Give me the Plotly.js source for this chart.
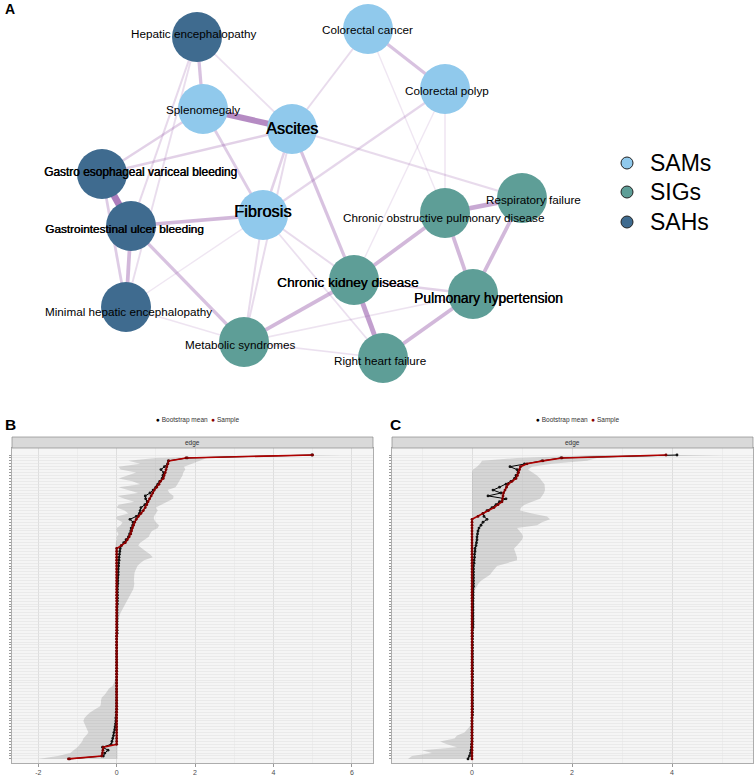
<!DOCTYPE html>
<html><head><meta charset="utf-8">
<script src="https://cdn.plot.ly/plotly-3.0.1.min.js"></script>
<style>html,body{margin:0;padding:0;background:#fff}#chart{width:756px;height:780px}</style>
</head><body><div id="chart"></div>
<script>
// ================= Panel A: network data =================
const nodeNames = ['Hepatic encephalopathy','Colorectal cancer','Colorectal polyp','Splenomegaly','Ascites',
  'Gastro esophageal variceal bleeding','Gastrointestinal ulcer bleeding','Fibrosis',
  'Chronic obstructive pulmonary disease','Respiratory failure','Chronic kidney disease',
  'Pulmonary hypertension','Minimal hepatic encephalopathy','Metabolic syndromes','Right heart failure'];
const nodeGroup = ['SAHs','SAMs','SAMs','SAMs','SAMs','SAHs','SAHs','SAMs','SIGs','SIGs','SIGs','SIGs','SAHs','SIGs','SIGs'];
// network layout coordinates (layout units)
const layoutX = [197,368,445,203,292,102,131,263,445,522,354,473,126,244,383];
const layoutY = [37,29,89,109,129,174,226,215,213,198,280,294,307,342,358];
// edges (node index pairs) and their weights
const edgeFrom   = [3,5,0,1,1,2,2,2,4,4,4,4,4,3,0,0,0,3,6,6,5,6,7,7,7,10,10,10,10,8,8,9,11,13,13,12,12,1];
const edgeTo     = [4,6,3,2,4,7,8,10,9,10,5,7,13,7,4,6,12,5,7,12,12,13,10,13,14,8,13,14,11,11,9,11,14,14,11,13,7,8];
const edgeWeight = [1.0,1.15,0.45,0.45,0.2,0.25,0.1,0.08,0.2,0.45,0.3,0.3,0.2,0.35,0.15,0.22,0.18,0.3,0.55,0.55,0.35,0.45,0.2,0.2,0.15,0.55,0.55,0.8,0.3,0.55,0.7,0.55,0.55,0.15,0.12,0.1,0.08,0.08];
const groupNames = ['SAMs','SIGs','SAHs'];

// ================= Panel B: bootstrap of edges (sample network) =================
const sampleB = [
  5.00,1.77,1.33,1.31,1.28,1.26,1.24,1.21,1.19,1.12,
  1.08,1.02,0.96,0.92,0.88,0.84,0.80,0.77,0.73,0.68,
  0.62,0.55,0.50,0.46,0.43,0.40,0.38,0.36,0.32,0.27,
  0.22,0.12,0,0,0,0,0,0,0,0,
  0,0,0,0,0,0,0,0,0,0,
  0,0,0,0,0,0,0,0,0,0,
  0,0,0,0,0,0,0,0,0,0,
  0,0,0,0,0,0,0,0,0,0,
  0,0,0,0,0,0,0,0,0,0,
  0,0,0,0,0,0,0,0,0,0,
  -0.34,-0.35,-0.36,-0.38,-1.23];
const bootMeanB = [
  4.98,1.80,1.32,1.30,1.22,1.13,1.20,1.18,1.16,1.10,
  1.05,1.00,0.93,0.85,0.73,0.74,0.78,0.72,0.62,0.60,
  0.58,0.50,0.34,0.42,0.41,0.37,0.36,0.33,0.30,0.24,
  0.18,0.12,0.09,0.08,0.07,0.06,0.06,0.05,0.05,0.04,
  0.04,0.04,0.03,0.03,0.03,0.02,0.02,0.02,0.02,0.02,
  0.02,0.02,0.01,0.01,0.01,0.01,0.01,0.01,0.01,0.01,
  0.01,0.01,0,0,0,0,0,0,0,0,
  0,0,0,0,0,0,0,0,0,0,
  0,0,0,0,0,0,0,0,-0.01,-0.01,
  -0.02,-0.02,-0.03,-0.04,-0.05,-0.07,-0.08,-0.10,-0.12,-0.14,
  -0.36,-0.22,-0.30,-0.34,-1.20];
const ciLowB = [
  4.20,1.00,0.30,0.60,0.05,0.10,0.50,0.30,0.05,0.40,
  0.60,0.05,0.30,0.55,0.02,0.20,0.45,0.05,0.00,0.20,
  0.30,0.00,0.00,0.15,0.10,0.00,0.00,0.05,0.00,0.00,
  -0.02,-0.03,-0.03,-0.02,-0.02,-0.01,-0.01,-0.01,0,0,
  0,0,0,0,0,0,0,0,0,0,
  0,0,0,0,0,0,0,0,0,0,
  0,0,0,0,0,0,0,0,0,0,
  0,0,0,0,0,0,-0.02,-0.04,-0.07,-0.10,
  -0.20,-0.25,-0.30,-0.38,-0.40,-0.40,-0.42,-0.55,-0.67,-0.75,
  -0.82,-0.85,-0.82,-0.80,-0.75,-0.72,-0.78,-0.85,-0.88,-0.95,
  -1.00,-1.10,-1.18,-1.50,-2.00];
const ciHighB = [
  5.70,2.30,2.10,1.90,1.72,1.75,1.70,1.68,1.64,1.60,
  1.55,1.50,1.30,1.35,1.45,1.44,1.30,1.15,1.00,1.05,
  1.00,0.95,0.95,1.00,1.08,1.05,0.90,0.85,0.82,0.70,
  0.60,0.55,0.65,0.75,0.85,0.92,0.70,0.60,0.53,0.50,
  0.46,0.45,0.44,0.44,0.45,0.44,0.42,0.40,0.36,0.32,
  0.28,0.22,0.18,0.14,0.10,0.07,0.05,0.04,0.03,0.03,
  0.03,0.02,0.02,0.02,0.02,0.02,0.02,0.02,0.02,0.02,
  0.02,0.02,0.02,0.02,0.02,0.02,0.02,0.02,0.02,0.02,
  0.02,0.02,0.02,0.02,0.02,0.02,0.02,0.02,0.02,0.02,
  0.02,0.02,0.02,0.02,0.02,0.02,0.02,0.02,0.02,0.02,
  0.02,0.02,0.02,0.02,0.02];

// ================= Panel C: bootstrap of edges (second network) =================
const sampleC = [
  3.88,1.80,1.42,1.10,0.97,0.95,0.93,0.91,0.88,0.80,
  0.72,0.69,0.66,0.63,0.62,0.61,0.60,0.52,0.44,0.33,
  0.22,0.12,0,0,0,0,0,0,0,0,
  0,0,0,0,0,0,0,0,0,0,
  0,0,0,0,0,0,0,0,0,0,
  0,0,0,0,0,0,0,0,0,0,
  0,0,0,0,0,0,0,0,0,0,
  0,0,0,0,0,0,0,0,0,0,
  0,0,0,0,0,0,0,0,0,0,
  0,0,0,0,0,0,0,0,0,0,
  0,0,0,0,0];
const bootMeanC = [
  4.10,1.78,1.40,1.05,0.76,0.90,0.92,0.88,0.85,0.78,
  0.68,0.55,0.42,0.58,0.32,0.68,0.55,0.48,0.40,0.30,
  0.22,0.24,0.30,0.22,0.18,0.14,0.12,0.11,0.10,0.10,
  0.09,0.08,0.06,0.06,0.05,0.05,0.04,0.04,0.03,0.03,
  0.03,0.03,0.03,0.03,0.03,0.03,0.02,0.02,0.02,0.02,
  0.02,0.02,0.02,0.02,0.02,0.02,0.02,0.02,0.02,0.02,
  0.01,0.01,0.01,0.01,0.01,0.01,0.01,0.01,0.01,0.01,
  0.01,0.01,0.01,0.01,0.01,0.01,0.01,0.01,0.01,0.01,
  0.01,0.01,0.01,0.01,0.01,0.01,0.01,0.01,0.01,0.01,
  0,0,0,0,0,0,0,0,0,-0.01,
  -0.01,-0.02,-0.03,-0.05,-0.08];
const ciLowC = [
  2.60,0.90,0.20,0.16,0.10,0.02,0,0,0,0,
  0,0,0,0,0,0,0,0,0,0,
  0,0,0,0,0,0,0,0,0,0,
  0,0,0,0,0,0,0,0,0,0,
  0,0,0,0,0,0,0,0,0,0,
  0,0,0,0,0,0,0,0,0,0,
  0,0,0,0,0,0,0,0,0,0,
  0,0,0,0,0,0,0,0,0,0,
  0,0,0,0,0,0,0,0,0,0,
  0,0,0,-0.05,-0.10,-0.15,-0.30,-0.35,-0.64,-0.50,
  -0.30,-1.00,-0.80,-1.20,-1.28];
const ciHighC = [
  5.00,2.50,2.30,1.60,1.20,1.12,1.20,1.30,1.36,1.40,
  1.45,1.46,1.46,1.44,1.40,1.36,1.20,1.05,0.98,0.96,
  1.20,1.50,1.56,1.40,1.30,0.90,0.95,1.00,1.02,1.00,
  0.95,0.90,0.84,0.86,0.88,0.90,0.90,0.70,0.50,0.45,
  0.40,0.36,0.26,0.18,0.13,0.09,0.06,0.05,0.04,0.04,
  0.03,0.03,0.03,0.03,0.03,0.03,0.03,0.03,0.03,0.03,
  0.03,0.03,0.03,0.03,0.03,0.03,0.03,0.03,0.03,0.03,
  0.02,0.02,0.02,0.02,0.02,0.02,0.02,0.02,0.02,0.02,
  0.02,0.02,0.02,0.02,0.02,0.02,0.02,0.02,0.02,0.02,
  0.02,0.02,0.02,0.02,0.02,0.02,0.02,0.02,0.02,0.02,
  0.02,0.02,0.02,0.02,0.02];
const xTicksB = [-2,0,2,4,6];
const xTicksC = [0,2,4];
const legendLabels = ['Bootstrap mean','Sample'];
const stripLabel = 'edge';

// ================= Styles =================
const FONT = 'Liberation Sans, Arial, Helvetica, sans-serif';
const groupColor = {SAMs:'#90C9EC', SIGs:'#5E9E97', SAHs:'#3F6B8F'};
const labelStyle = { // per node: [dx, dy, font size, heaviness]
  'Hepatic encephalopathy':[-3,-4,11.7,0], 'Colorectal cancer':[-1,0,11.7,0], 'Colorectal polyp':[2,1,11.7,0],
  'Splenomegaly':[0,0,11.7,0], 'Ascites':[0,-1,16.2,0.45], 'Gastro esophageal variceal bleeding':[38,-2,11.9,0.45],
  'Gastrointestinal ulcer bleeding':[-7,3,11.8,0.45], 'Fibrosis':[-1,-4,16.4,0.45],
  'Chronic obstructive pulmonary disease':[-2,4,11.7,0], 'Respiratory failure':[11,1,11.7,0],
  'Chronic kidney disease':[-6,2,13.7,0.3], 'Pulmonary hypertension':[15,4,13.8,0.3],
  'Minimal hepatic encephalopathy':[2,4,11.7,0], 'Metabolic syndromes':[-4,2,11.7,0], 'Right heart failure':[-3,2,11.7,0]
};
const W = 756, H = 780;
const py = p => 1 - p / H, px = p => p / W;

const traces = [];
// edges
edgeFrom.forEach((a, i) => {
  const b = edgeTo[i], w = edgeWeight[i];
  const alpha = Math.min(0.85, 0.1 + 0.6 * w);
  traces.push({type:'scatter', mode:'lines', x:[layoutX[a], layoutX[b]], y:[layoutY[a], layoutY[b]],
    line:{color:`rgba(150,90,170,${alpha.toFixed(3)})`, width:1 + 5 * w}, hoverinfo:'skip', showlegend:false,
    xaxis:'x', yaxis:'y'});
});
// nodes
groupNames.forEach(g => {
  const idx = nodeNames.map((_, i) => i).filter(i => nodeGroup[i] === g);
  traces.push({type:'scatter', mode:'markers', x:idx.map(i => layoutX[i]), y:idx.map(i => layoutY[i]),
    marker:{size:50, color:groupColor[g], line:{width:0}}, cliponaxis:false, hoverinfo:'text',
    text:idx.map(i => nodeNames[i]), showlegend:false, xaxis:'x', yaxis:'y'});
});

const rowIdx = sampleB.map((_, i) => i);
function ribbon(lo, hi, xa, ya) {
  return {type:'scatter', mode:'lines', x:lo.concat(hi.slice().reverse()),
    y:rowIdx.concat(rowIdx.slice().reverse()), fill:'toself', fillcolor:'rgba(140,140,140,0.30)',
    line:{width:0, color:'rgba(0,0,0,0)'}, hoverinfo:'skip', showlegend:false, xaxis:xa, yaxis:ya};
}
function series(vals, color, lw, mcolor, xa, ya) {
  return {type:'scatter', mode:'lines+markers', x:vals, y:rowIdx, line:{color:color, width:lw},
    marker:{size:2.8, color:mcolor}, hoverinfo:'x', showlegend:false, xaxis:xa, yaxis:ya, cliponaxis:false};
}
traces.push(ribbon(ciLowB, ciHighB, 'x2', 'y2'));
traces.push(series(bootMeanB, '#000000', 1, '#111111', 'x2', 'y2'));
traces.push(series(sampleB, '#B00000', 1.6, '#7a0000', 'x2', 'y2'));
traces.push(ribbon(ciLowC, ciHighC, 'x3', 'y3'));
traces.push(series(bootMeanC, '#000000', 1, '#111111', 'x3', 'y3'));
traces.push(series(sampleC, '#B00000', 1.6, '#7a0000', 'x3', 'y3'));

// legend of panel A (manual)
const legendY = [163, 192, 222];
traces.push({type:'scatter', mode:'markers', x:groupNames.map(() => 627), y:legendY,
  marker:{size:12, color:groupNames.map(g => groupColor[g]), line:{width:1, color:'#222'}},
  hoverinfo:'skip', showlegend:false, xaxis:'x', yaxis:'y', cliponaxis:false});

const annotations = [];
nodeNames.forEach((n, i) => {
  const s = labelStyle[n];
  const f = {family:FONT, size:s[2], color:'#000'};
  if (s[3]) f.shadow = s[3] + 'px 0px 0px #000';
  annotations.push({xref:'x', yref:'y', x:layoutX[i] + s[0], y:layoutY[i] + s[1], text:n, showarrow:false,
    xanchor:'center', yanchor:'middle', font:f});
});
groupNames.forEach((g, i) => annotations.push({xref:'x', yref:'y', x:648, y:legendY[i], text:g, showarrow:false,
  xanchor:'left', yanchor:'middle', font:{family:FONT, size:23, color:'#000'}}));
// panel letters
[['A', 3, 9, 14], ['B', 3, 425, 15.5], ['C', 388, 425, 15.5]].forEach(([t, x, y, s]) =>
  annotations.push({xref:'paper', yref:'paper', x:px(x), y:py(y), text:'<b>' + t + '</b>', showarrow:false,
    xanchor:'left', yanchor:'middle', font:{family:FONT, size:s, color:'#000'}}));
// bootstrap legends + strip labels
const legText = `<span style="color:#000">●</span> ${legendLabels[0]}  <span style="color:#8b0000">●</span> ${legendLabels[1]}`;
[[197, 'x2'], [577, 'x3']].forEach(([cx, xa]) => {
  annotations.push({xref:'paper', yref:'paper', x:px(cx), y:py(420), text:legText, showarrow:false,
    xanchor:'center', yanchor:'middle', font:{family:FONT, size:6.5, color:'#333'}});
  annotations.push({xref:xa + ' domain', yref:'paper', x:0.5, y:py(442.5), text:stripLabel, showarrow:false,
    xanchor:'center', yanchor:'middle', font:{family:FONT, size:6.5, color:'#333'}});
});

const shapes = [];
['x2', 'x3'].forEach(xa => {
  shapes.push({type:'rect', xref:xa + ' domain', yref:'paper', x0:0, x1:1, y0:py(763), y1:py(448),
    fillcolor:'#f5f5f5', line:{width:0}, layer:'below'});
  shapes.push({type:'rect', xref:xa + ' domain', yref:'paper', x0:0, x1:1,
    y0:py(448), y1:py(437), fillcolor:'#d9d9d9', line:{color:'#8a8a8a', width:0.7}, layer:'above'});
});

function bootX(domain, range, ticks) {
  return {domain:domain, range:range, tickvals:ticks, ticktext:ticks.map(String), ticks:'outside', ticklen:3,
    tickcolor:'#555', tickwidth:0.6, tickfont:{family:FONT, size:7, color:'#4d4d4d'},
    showgrid:true, gridcolor:'#dadada', gridwidth:0.8,
    minor:{dtick:1, tick0:0, showgrid:true, gridcolor:'#e8e8e8', gridwidth:0.6, ticks:''},
    zeroline:false, showline:true, mirror:true, linecolor:'#8a8a8a', linewidth:0.7, fixedrange:true};
}
function bootY(anchor) {
  return {domain:[py(763), py(448)], anchor:anchor, range:[105.4, -2.4], tickvals:rowIdx,
    ticktext:rowIdx.map(() => ''), showticklabels:false, ticks:'outside', ticklen:2.5, tickwidth:0.5,
    tickcolor:'#333', showgrid:true, gridcolor:'#e2e2e2', gridwidth:0.6, zeroline:false,
    showline:true, mirror:true, linecolor:'#8a8a8a', linewidth:0.7, fixedrange:true};
}

const layout = {
  width:W, height:H, margin:{l:0, r:0, t:0, b:0}, paper_bgcolor:'#fff', plot_bgcolor:'rgba(0,0,0,0)',
  showlegend:false, font:{family:FONT},
  xaxis:{domain:[0, 1], range:[0, W], visible:false, fixedrange:true},
  yaxis:{domain:[py(385), 1], range:[385, 0], visible:false, fixedrange:true},
  xaxis2:Object.assign(bootX([px(12), px(373)], [-2.67, 6.54], xTicksB), {anchor:'y2'}),
  yaxis2:bootY('x2'),
  xaxis3:Object.assign(bootX([px(392), px(753)], [-1.6, 5.62], xTicksC), {anchor:'y3'}),
  yaxis3:bootY('x3'),
  annotations:annotations, shapes:shapes
};
Plotly.newPlot('chart', traces, layout, {staticPlot:true, displayModeBar:false});
</script>
</body></html>
